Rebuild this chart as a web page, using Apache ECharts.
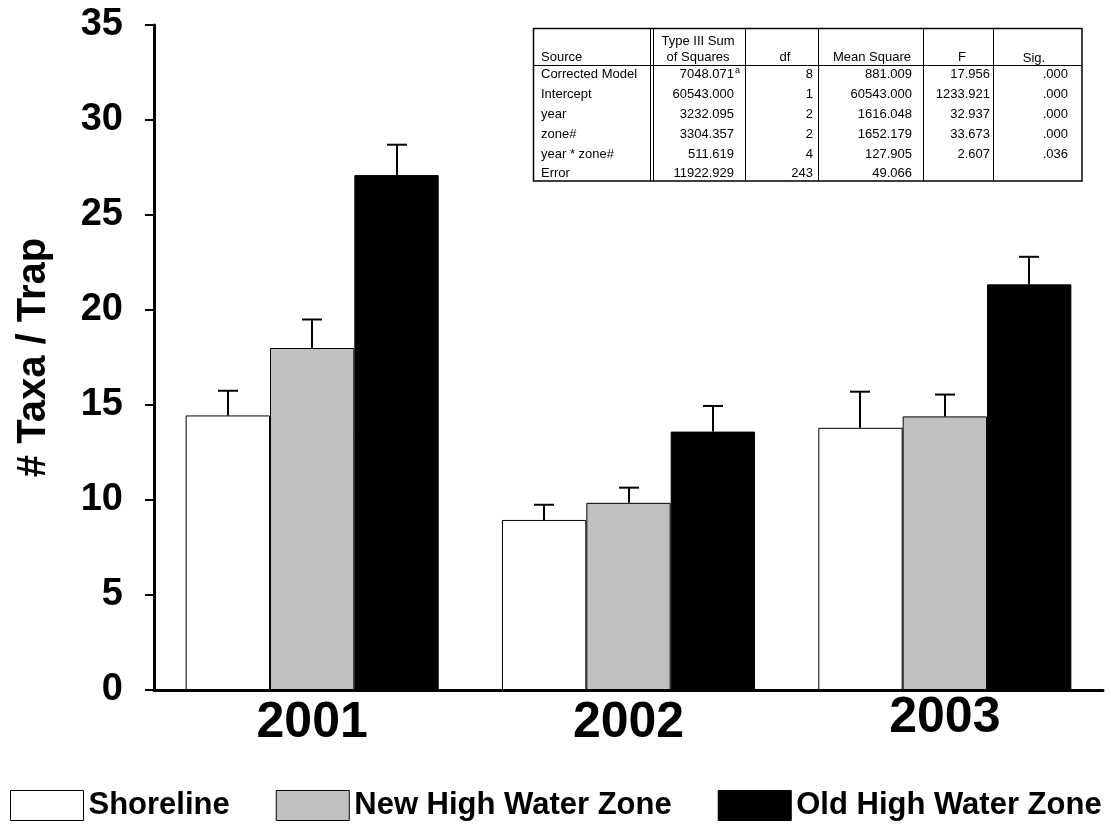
<!DOCTYPE html>
<html><head><meta charset="utf-8">
<script src="https://cdn.jsdelivr.net/npm/echarts@6/dist/echarts.min.js"></script>
<style>html,body{margin:0;padding:0;background:#fff}#c{width:1111px;height:827px}</style>
</head><body><div id="c"></div>
<script>
// ---- chart data ----
const years = ['2001', '2002', '2003'];
const seriesNames = ['Shoreline', 'New High Water Zone', 'Old High Water Zone'];
const shoreline = [14.45, 8.95, 13.8];
const newHighWater = [18.0, 9.85, 14.4];
const oldHighWater = [27.1, 13.6, 21.35];
const shorelineSE = [1.3, 0.8, 1.9];
const newHighWaterSE = [1.5, 0.8, 1.15];
const oldHighWaterSE = [1.6, 1.35, 1.45];
const yMin = 0, yMax = 35, yStep = 5;

// ---- ANOVA table data ----
const tableHeaders = ['Source', 'Type III Sum\nof Squares', 'df', 'Mean Square', 'F', 'Sig.'];
const tableSources = ['Corrected Model', 'Intercept', 'year', 'zone#', 'year * zone#', 'Error'];
const tableSS = ['7048.071', '60543.000', '3232.095', '3304.357', '511.619', '11922.929'];
const tableSSNote = ['a', '', '', '', '', ''];
const tableDf = ['8', '1', '2', '2', '4', '243'];
const tableMS = ['881.009', '60543.000', '1616.048', '1652.179', '127.905', '49.066'];
const tableF = ['17.956', '1233.921', '32.937', '33.673', '2.607', ''];
const tableSig = ['.000', '.000', '.000', '.000', '.036', ''];

const FONT = '"Liberation Sans", Arial, Helvetica, sans-serif';
const means = [shoreline, newHighWater, oldHighWater];
const ses = [shorelineSE, newHighWaterSE, oldHighWaterSE];
const fills = ['#ffffff', '#c0c0c0', '#000000'];

function makeErr(k) {
  return function (params, api) {
    const i = api.value(0), m = api.value(1), se = api.value(2);
    const band = api.size([1, 0])[0];
    const bw = band * 0.8 / 3;
    const base = api.coord([i, m]);
    const top = api.coord([i, m + se]);
    const x = Math.round(base[0] + (k - 1) * bw);
    return {
      type: 'group',
      children: [
        { type: 'line', shape: { x1: x, y1: base[1], x2: x, y2: top[1] }, style: { stroke: '#000', lineWidth: 2 } },
        { type: 'line', shape: { x1: x - 10, y1: top[1], x2: x + 10, y2: top[1] }, style: { stroke: '#000', lineWidth: 2 } }
      ]
    };
  };
}

const series = [];
for (let k = 0; k < 3; k++) {
  series.push({
    name: seriesNames[k], type: 'bar', data: means[k],
    barGap: '0%', barCategoryGap: '20%',
    itemStyle: { color: fills[k], borderColor: '#000', borderWidth: 1 },
    silent: true, z: 2
  });
}
for (let k = 0; k < 3; k++) {
  series.push({
    type: 'custom', renderItem: makeErr(k), silent: true, z: 3,
    encode: { x: 0, y: 1 },
    data: years.map((y, i) => [i, means[k][i], ses[k][i]])
  });
}

// ---- table graphic ----
const tb = { left: 533.5, top: 28.5, right: 1082, bottom: 181, head: 65.5 };
const colDiv = [745.5, 818.5, 923.5, 993.5];
const rowY = [74, 94, 114, 134, 154, 173];
const g = [];
g.push({ type: 'rect', shape: { x: tb.left, y: tb.top, width: tb.right - tb.left, height: tb.bottom - tb.top }, style: { fill: '#fff', stroke: '#000', lineWidth: 1.5 }, z: 10 });
g.push({ type: 'line', shape: { x1: tb.left, y1: tb.head, x2: tb.right, y2: tb.head }, style: { stroke: '#000', lineWidth: 1 }, z: 11 });
[650.5, 653.5].concat(colDiv).forEach(x => g.push({ type: 'line', shape: { x1: x, y1: tb.top, x2: x, y2: tb.bottom }, style: { stroke: '#000', lineWidth: 1 }, z: 11 }));
function txt(t, x, y, align, size) {
  g.push({ type: 'text', x: x, y: y, z: 12, style: { text: t, fontFamily: 'Arial, "Liberation Sans", sans-serif', fontSize: size || 13, fill: '#000', align: align, verticalAlign: 'middle' } });
}
// headers
txt(tableHeaders[0], 541, 57, 'left');
const hl = tableHeaders[1].split('\n');
txt(hl[0], 698, 41, 'center');
txt(hl[1], 698, 57, 'center');
txt(tableHeaders[2], 785, 57, 'center');
txt(tableHeaders[3], 872, 57, 'center');
txt(tableHeaders[4], 962, 57, 'center');
txt(tableHeaders[5], 1034, 58, 'center');
tableSources.forEach((s, r) => {
  txt(s, 541, rowY[r], 'left');
  txt(tableSS[r], 734, rowY[r], 'right');
  if (tableSSNote[r]) txt(tableSSNote[r], 735, rowY[r] - 3, 'left', 9);
  txt(tableDf[r], 813, rowY[r], 'right');
  txt(tableMS[r], 912, rowY[r], 'right');
  txt(tableF[r], 990, rowY[r], 'right');
  txt(tableSig[r], 1068, rowY[r], 'right');
});

const chart = echarts.init(document.getElementById('c'), null, { renderer: 'canvas' });
chart.setOption({
  animation: false,
  backgroundColor: '#fff',
  textStyle: { fontFamily: FONT },
  grid: { left: 154, right: 8, top: 25, bottom: 137, containLabel: false },
  legend: {
    data: seriesNames, left: 10, top: 790, padding: 0,
    itemWidth: 73, itemHeight: 30, itemGap: 46, icon: 'rect',
    itemStyle: { borderColor: '#000', borderWidth: 1 },
    textStyle: { fontFamily: FONT, fontSize: 31, fontWeight: 'bold', color: '#000' },
    selectedMode: false
  },
  xAxis: {
    type: 'category', data: years,
    axisLine: { lineStyle: { color: '#000', width: 3 } },
    axisTick: { show: false },
    axisLabel: {
      margin: 3,
      formatter: v => v === '2003' ? '{b|' + v + '}' : '{a|' + v + '}',
      rich: {
        a: { fontFamily: FONT, fontSize: 50, fontWeight: 'bold', color: '#000', padding: [5, 0, 0, 0] },
        b: { fontFamily: FONT, fontSize: 50, fontWeight: 'bold', color: '#000' }
      }
    }
  },
  yAxis: {
    type: 'value', min: yMin, max: yMax, interval: yStep,
    name: '# Taxa / Trap', nameLocation: 'middle', nameRotate: 90, nameGap: 100,
    nameTextStyle: { fontFamily: FONT, fontSize: 40, fontWeight: 'bold', color: '#000' },
    axisLine: { show: true, lineStyle: { color: '#000', width: 3 } },
    axisTick: { show: true, inside: false, length: 9, lineStyle: { color: '#000', width: 2 } },
    splitLine: { show: false },
    axisLabel: { fontFamily: FONT, fontSize: 38, fontWeight: 'bold', color: '#000', margin: 31 }
  },
  graphic: g,
  series: series
});
</script></body></html>
